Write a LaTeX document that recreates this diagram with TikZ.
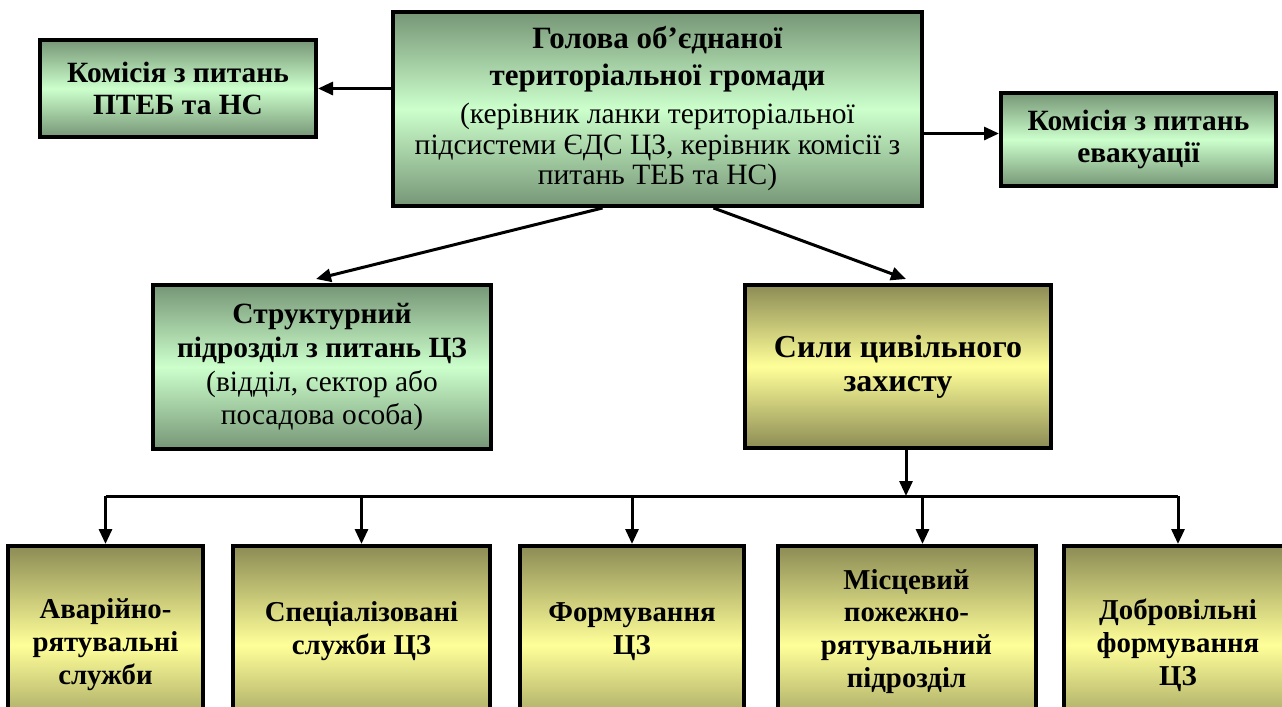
\documentclass[tikz,border=0pt]{standalone}
\usepackage{fontspec}
\setmainfont{Liberation Serif}
\usepackage{tikz}
\usetikzlibrary{arrows.meta,calc}
\definecolor{greendark}{RGB}{118,150,118}
\definecolor{greenlight}{RGB}{204,255,204}
\definecolor{olivedark}{RGB}{140,140,85}
\definecolor{olivelight}{RGB}{255,255,153}

\tikzset{
  box/.style={draw=black, line width=2pt, align=center, inner sep=2pt,
    font=\fontsize{14.75}{15.25}\selectfont},
  greenbox/.style={box, top color=greendark, bottom color=greendark, middle color=greenlight},
  olivebox/.style={box, top color=olivedark, bottom color=olivedark, middle color=olivelight,
    font=\bfseries\fontsize{14.4}{16.5}\selectfont},
  link/.style={line width=1.5pt, -{Triangle[length=7.5pt,width=6.5pt]}}
}
\newcommand{\bigb}[1]{\textbf{\fontsize{15.5}{17.5}\selectfont #1}}

\begin{document}
\begin{tikzpicture}[x=0.5pt,y=-0.5pt]
  \clip (0,0) rectangle (1282,707);
  % top row
  \node[greenbox, minimum width=264.5pt, minimum height=97pt] (head) at (657.5,109) {
    \bigb{Голова об’єднаної}\\[3pt]\bigb{територіальної громади}\\[4pt]
    (керівник ланки територіальної\\підсистеми ЄДС ЦЗ, керівник комісії з\\питань ТЕБ та НС)
  };
  \node[greenbox, minimum width=138pt, minimum height=48.5pt, font=\bfseries\fontsize{14.7}{16}\selectfont] (pteb) at (178,88.5) {
    Комісія з питань\\ПТЕБ та НС
  };
  \node[greenbox, minimum width=137.5pt, minimum height=46.5pt, font=\bfseries\fontsize{14.7}{16}\selectfont] (evac) at (1138.5,139.5) {
    Комісія з питань\\евакуації
  };
  % middle row
  \node[greenbox, minimum width=169pt, minimum height=82pt, font=\fontsize{14.7}{16.5}\selectfont] (struct) at (322,367) {
    \textbf{Структурний}\\[0.5pt]\textbf{підрозділ з питань ЦЗ}\\[0.5pt](відділ, сектор або\\посадова особа)
  };
  \node[olivebox, minimum width=153pt, minimum height=81.5pt, font=\bfseries\fontsize{16}{17}\selectfont] (forces) at (898,366.5) {
    Сили цивільного\\захисту
  };
  % bottom row
  \node[olivebox, minimum width=97.5pt, minimum height=99pt] (b1) at (105.5,645) {Аварійно-\\рятувальні\\служби};
  \node[olivebox, minimum width=128.5pt, minimum height=99pt] (b2) at (361.5,645) {Спеціалізовані\\служби ЦЗ\\\mbox{}};
  \node[olivebox, minimum width=112pt, minimum height=99pt] (b3) at (632,645) {Формування\\ЦЗ\\\mbox{}};
  \node[olivebox, minimum width=129pt, minimum height=99pt] (b4) at (906.5,645) {Місцевий\\пожежно-\\рятувальний\\підрозділ\\\mbox{}};
  \node[olivebox, minimum width=114pt, minimum height=99pt] (b5) at (1178,645) {Добровільні\\формування\\ЦЗ};

  % connectors
  \draw[link] (head.west |- pteb.east) -- (pteb.east);
  \draw[link] ([yshift=3pt]head.east |- evac.west) -- ([yshift=3pt]evac.west);
  \draw[link] ([xshift=-27.5pt]head.south) -- ([xshift=-3pt,yshift=2pt]struct.north);
  \draw[link] ([xshift=28pt]head.south) -- ([xshift=4pt,yshift=2pt]forces.north);
  \coordinate (busy) at (0,496);
  \draw[link] ([xshift=4pt]forces.south) -- ([xshift=4pt]forces.south |- busy);
  \draw[line width=1.5pt] (b1.north |- busy) -- (b5.north |- busy);
  \foreach \b/\s in {b1/0,b2/0,b3/0,b4/8,b5/0}
    \draw[link] ([xshift=\s pt]\b.north |- busy) -- ([xshift=\s pt]\b.north);
\end{tikzpicture}
\end{document}
